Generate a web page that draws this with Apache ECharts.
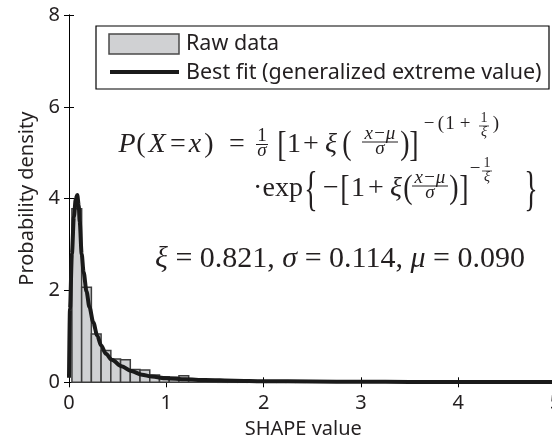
<!DOCTYPE html>
<html><head><meta charset="utf-8">
<script src="https://cdn.jsdelivr.net/npm/echarts@6/dist/echarts.min.js"></script>
<style>html,body{margin:0;padding:0;background:#fff}#c{width:552px;height:440px}</style>
</head><body><div id="c"></div>
<script>
// ---- data ----
const binStart = [0.03,0.13,0.23,0.33,0.43,0.53,0.63,0.73,0.83,0.93,1.03,1.13,1.23,1.33,1.43,1.53,1.63,1.73,1.83,1.93,2.03,2.13,2.23,2.33];
const binWidth = 0.1;
const binHeight = [3.78,2.07,1.05,0.69,0.51,0.49,0.28,0.27,0.16,0.12,0.11,0.14,0.06,0.05,0.04,0.03,0.03,0.02,0.02,0.02,0.01,0.01,0.01,0.01];
const fitX = [0,0.01,0.03,0.05,0.07,0.085,0.10,0.11,0.13,0.15,0.18,0.21,0.25,0.29,0.33,0.38,0.44,0.54,0.64,0.75,0.85,1.0,1.2,1.4,1.7,2.0,2.5,3.0,3.5,4.0,4.5,5.0];
const fitY = [0.1,1.6,2.8,3.6,4.0,4.08,3.85,3.5,2.8,2.4,1.98,1.64,1.3,1.02,0.8,0.62,0.49,0.35,0.245,0.165,0.125,0.088,0.065,0.05,0.035,0.025,0.017,0.012,0.009,0.007,0.006,0.005];
const xRange = [0,5];
const yRange = [0,8];
const xStep = 1, yStep = 2;
const legendNames = ['Raw data','Best fit (generalized extreme value)'];
const xName = 'SHAPE value', yName = 'Probability density';

const SANS = '"Noto Sans", "Open Sans", sans-serif';
const SERIF = '"Liberation Serif", "DejaVu Serif", serif';
const INK = '#231f20';

const chart = echarts.init(document.getElementById('c'), null, {renderer:'canvas'});

function T(str, x, base, size, o) {
  o = o || {};
  return {type:'text', x:x, y:base - 0.3*size, scaleX:o.sx||1, scaleY:o.sy||1, z:100,
    style:{text:str, fontSize:size, fontFamily:SERIF, fontStyle:o.it?'italic':'normal',
      fill:INK, align:o.al||'center', verticalAlign:'middle'}};
}
function L(x1,y1,x2,y2,w){return {type:'line', z:100, shape:{x1,y1,x2,y2}, style:{stroke:INK, lineWidth:w||1}};}

const M = 28, S = 19, SS = 14;
const b1 = 153, b2 = 197, b3 = 268;
const formula = [
  // line 1
  T('P',127,b1,M,{it:1}), T('(',141,b1,M), T('X',157,b1,M,{it:1}), T('=',178,b1,M),
  T('x',195,b1,M,{it:1}), T(')',209,b1,M), T('=',237,b1,M),
  T('1',262,b1-11,S), L(256,b1-8.5,268,b1-8.5,1), T('σ',262,b1+4,S,{it:1}),
  T('[',282,b1+2,M,{sy:1.25}),
  T('1',294,b1,M), T('+',311,b1,M), T('ξ',331,b1,M,{it:1}),
  T('(',347,b1+1,M,{sy:1.2}),
  T('x−μ',380,b1-13,S,{it:1}), L(362,b1-11,398,b1-11,1), T('σ',380,b1+2,S,{it:1}),
  T(')',405,b1+1,M,{sy:1.2}), T(']',414,b1+2,M,{sy:1.25}),
  T('−',429,b1-23,S), T('(',441,b1-23,S), T('1',450,b1-23,S), T('+',465,b1-23,S),
  T('1',484,b1-30,SS), L(479,b1-27,489,b1-27,0.8), T('ξ',484,b1-16,SS,{it:1}), T(')',496,b1-23,S),
  // line 2
  T('·exp',278,b2,M), T('{',311,b2+4,M,{sy:1.7}),
  T('−',331,b2,M), T('[',345,b2+2,M,{sy:1.25}), T('1',358,b2,M), T('+',376,b2,M), T('ξ',396,b2,M,{it:1}),
  T('(',408,b2+1,M,{sy:1.2}),
  T('x−μ',430,b2-13,S,{it:1}), L(412,b2-11,448,b2-11,1), T('σ',430,b2+2,S,{it:1}),
  T(')',454,b2+1,M,{sy:1.2}), T(']',464,b2+2,M,{sy:1.25}),
  T('−',475,b2-22,S), T('1',487,b2-29,SS), L(482,b2-26,492,b2-26,0.8), T('ξ',487,b2-15,SS,{it:1}),
  T('}',531,b2+4,M,{sy:1.7}),
  // line 3
  {type:'text', x:340, y:b3-0.3*30, z:100, style:{text:'{i|ξ} = 0.821, {i|σ} = 0.114, {i|μ} = 0.090',
    fontSize:30, fontFamily:SERIF, fill:INK, align:'center', verticalAlign:'middle',
    rich:{i:{fontStyle:'italic', fontSize:30, fontFamily:SERIF, fill:INK}}}}
];

const legend = [
  {type:'rect', z:90, shape:{x:96, y:26, width:453, height:63}, style:{fill:'#fff', stroke:'#000', lineWidth:1.2}},
  {type:'rect', z:91, shape:{x:109, y:34, width:70, height:20}, style:{fill:'#d0d1d3', stroke:'#4a4a4a', lineWidth:1.5}},
  {type:'line', z:91, shape:{x1:110, y1:72, x2:179, y2:72}, style:{stroke:'#1a1a1a', lineWidth:4}},
  {type:'text', z:91, x:186, y:44, style:{text:legendNames[0], fontSize:21.5, fontFamily:SANS, fill:INK, align:'left', verticalAlign:'middle'}},
  {type:'text', z:91, x:186, y:73, style:{text:legendNames[1], fontSize:21.5, fontFamily:SANS, fill:INK, align:'left', verticalAlign:'middle'}}
];

const axisCommon = {
  type:'value', splitLine:{show:false},
  axisLine:{show:true, lineStyle:{color:'#000', width:1}},
  axisTick:{show:true, inside:true, length:5, lineStyle:{color:'#000', width:1}},
  axisLabel:{color:INK, fontSize:20, fontFamily:SANS}
};

chart.setOption({
  animation:false,
  backgroundColor:'#fff',
  grid:{left:69, top:15, right:-3.5, bottom:57.7, containLabel:false, outerBoundsMode:'none'},
  xAxis:[
    Object.assign({}, axisCommon, {min:xRange[0], max:xRange[1], interval:xStep, position:'bottom',
      name:xName, nameLocation:'middle', nameGap:37,
      nameTextStyle:{color:INK, fontSize:20, fontFamily:SANS, padding:[0,18,0,0]},
      axisLabel:Object.assign({}, axisCommon.axisLabel, {margin:11})}),
    Object.assign({}, axisCommon, {min:xRange[0], max:xRange[1], interval:xStep, position:'top', axisLabel:{show:false}})
  ],
  yAxis:[
    Object.assign({}, axisCommon, {min:yRange[0], max:yRange[1], interval:yStep, position:'left',
      name:yName, nameLocation:'middle', nameGap:32,
      nameTextStyle:{color:INK, fontSize:20, fontFamily:SANS},
      axisLabel:Object.assign({}, axisCommon.axisLabel, {margin:9})}),
    Object.assign({}, axisCommon, {min:yRange[0], max:yRange[1], interval:yStep, position:'right', axisLabel:{show:false}})
  ],
  series:[
    {type:'custom', name:legendNames[0], xAxisIndex:0, yAxisIndex:0,
     data:binStart.map((s,i)=>[s, s+binWidth, binHeight[i]]),
     encode:{x:[0,1], y:2},
     renderItem:function(params, api){
       const p0 = api.coord([api.value(0), api.value(2)]);
       const p1 = api.coord([api.value(1), 0]);
       return {type:'rect', shape:{x:p0[0], y:p0[1], width:p1[0]-p0[0], height:p1[1]-p0[1]},
         style:{fill:'#d0d1d3', stroke:'#3d3d3d', lineWidth:1.5}};
     }, z:2},
    {type:'line', name:legendNames[1], xAxisIndex:0, yAxisIndex:0,
     data:fitX.map((x,i)=>[x, fitY[i]]), showSymbol:false, smooth:0.3, smoothMonotone:'x',
     lineStyle:{color:'#1a1a1a', width:4, join:'round'}, z:3}
  ],
  graphic:legend.concat(formula)
});
</script>
</body></html>
